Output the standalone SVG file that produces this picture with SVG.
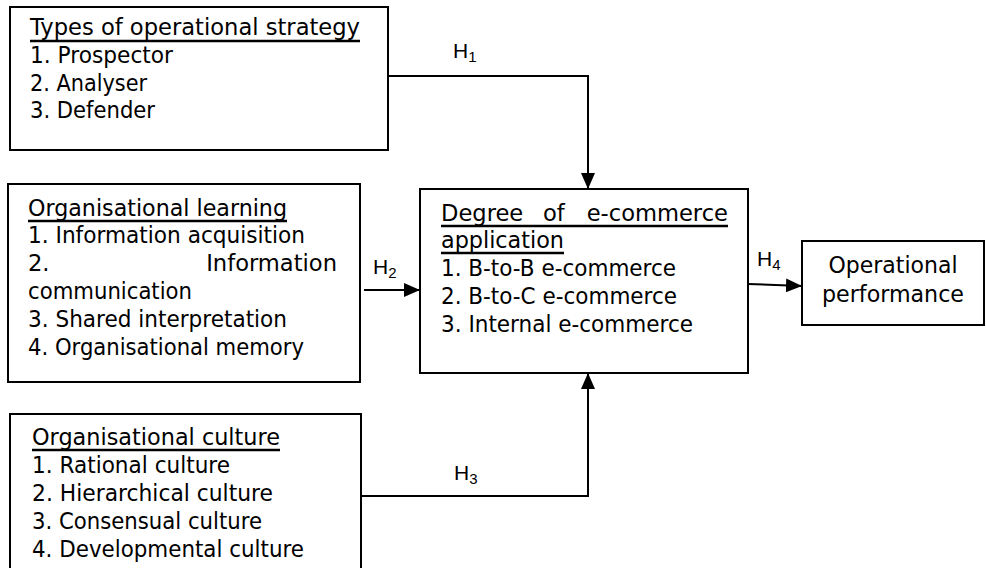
<svg xmlns="http://www.w3.org/2000/svg" width="986" height="568" viewBox="0 0 986 568">
<defs>
<style>
.box{fill:#fff;stroke:#000;stroke-width:2}
.t{font-family:"DejaVu Sans","Verdana",sans-serif;font-size:22.6px;fill:#000}
.ul{stroke:#000;stroke-width:2.6}
.h{font-family:"Liberation Sans",Arial,sans-serif;font-size:21px;fill:#000}
.sub{font-size:15px}
.c{fill:none;stroke:#000;stroke-width:2}
</style>
<marker id="ah" viewBox="0 0 16 14" refX="16" refY="7" markerWidth="16" markerHeight="14" markerUnits="userSpaceOnUse" orient="auto">
<path d="M0,0 L16,7 L0,14 z" fill="#000"/>
</marker>
</defs>
<rect width="986" height="568" fill="#fff"/>
<g id="strategy">
<rect class="box" x="10" y="7" width="378" height="143"/>
<text class="t" x="30" y="35" textLength="330" lengthAdjust="spacingAndGlyphs">Types of operational strategy</text>
<line class="ul" x1="30" y1="41" x2="360" y2="41"/>
<text class="t" x="30" y="63" textLength="143" lengthAdjust="spacingAndGlyphs">1. Prospector</text>
<text class="t" x="30" y="91" textLength="117" lengthAdjust="spacingAndGlyphs">2. Analyser</text>
<text class="t" x="30" y="118" textLength="125" lengthAdjust="spacingAndGlyphs">3. Defender</text>
</g>
<g id="learning">
<rect class="box" x="8" y="184" width="352" height="198"/>
<text class="t" x="28" y="216" textLength="259" lengthAdjust="spacingAndGlyphs">Organisational learning</text>
<line class="ul" x1="28" y1="221" x2="287" y2="221"/>
<text class="t" x="28" y="243" textLength="277" lengthAdjust="spacingAndGlyphs">1. Information acquisition</text>
<text class="t"><tspan x="28" y="271">2.</tspan><tspan x="337" y="271" text-anchor="end">Information</tspan></text>
<text class="t" x="28" y="299" textLength="164" lengthAdjust="spacingAndGlyphs">communication</text>
<text class="t" x="28" y="327" textLength="259" lengthAdjust="spacingAndGlyphs">3. Shared interpretation</text>
<text class="t" x="28" y="355" textLength="276" lengthAdjust="spacingAndGlyphs">4. Organisational memory</text>
</g>
<g id="culture">
<rect class="box" x="10" y="414" width="351" height="200"/>
<text class="t" x="32" y="445" textLength="248" lengthAdjust="spacingAndGlyphs">Organisational culture</text>
<line class="ul" x1="32" y1="450" x2="280" y2="450"/>
<text class="t" x="32" y="473" textLength="198" lengthAdjust="spacingAndGlyphs">1. Rational culture</text>
<text class="t" x="32" y="501" textLength="241" lengthAdjust="spacingAndGlyphs">2. Hierarchical culture</text>
<text class="t" x="32" y="529" textLength="230" lengthAdjust="spacingAndGlyphs">3. Consensual culture</text>
<text class="t" x="32" y="557" textLength="272" lengthAdjust="spacingAndGlyphs">4. Developmental culture</text>
</g>
<g id="ecommerce">
<rect class="box" x="420" y="189" width="328" height="184"/>
<text class="t"><tspan x="441" y="221">Degree</tspan><tspan x="543" y="221">of</tspan><tspan x="728" y="221" text-anchor="end">e-commerce</tspan></text>
<line class="ul" x1="441" y1="226" x2="728" y2="226"/>
<text class="t" x="441" y="248" textLength="123" lengthAdjust="spacingAndGlyphs">application</text>
<line class="ul" x1="441" y1="253" x2="564" y2="253"/>
<text class="t" x="441" y="276" textLength="235" lengthAdjust="spacingAndGlyphs">1. B-to-B e-commerce</text>
<text class="t" x="441" y="304" textLength="236" lengthAdjust="spacingAndGlyphs">2. B-to-C e-commerce</text>
<text class="t" x="441" y="332" textLength="252" lengthAdjust="spacingAndGlyphs">3. Internal e-commerce</text>
</g>
<g id="performance">
<rect class="box" x="802" y="241" width="182" height="84"/>
<text class="t" x="893" y="273" text-anchor="middle" textLength="129" lengthAdjust="spacingAndGlyphs">Operational</text>
<text class="t" x="893" y="302" text-anchor="middle" textLength="142" lengthAdjust="spacingAndGlyphs">performance</text>
</g>
<g id="connectors">
<path class="c" d="M388,76 H588 V189" marker-end="url(#ah)"/>
<path class="c" d="M364,290 H420" marker-end="url(#ah)"/>
<path class="c" d="M361,496 H588 V373" marker-end="url(#ah)"/>
<path class="c" d="M748,284 L802,286" marker-end="url(#ah)"/>
<text class="h" x="453" y="58">H<tspan class="sub" dy="4">1</tspan></text>
<text class="h" x="373" y="274">H<tspan class="sub" dy="4">2</tspan></text>
<text class="h" x="454" y="480">H<tspan class="sub" dy="4">3</tspan></text>
<text class="h" x="757" y="266">H<tspan class="sub" dy="4">4</tspan></text>
</g>
</svg>
